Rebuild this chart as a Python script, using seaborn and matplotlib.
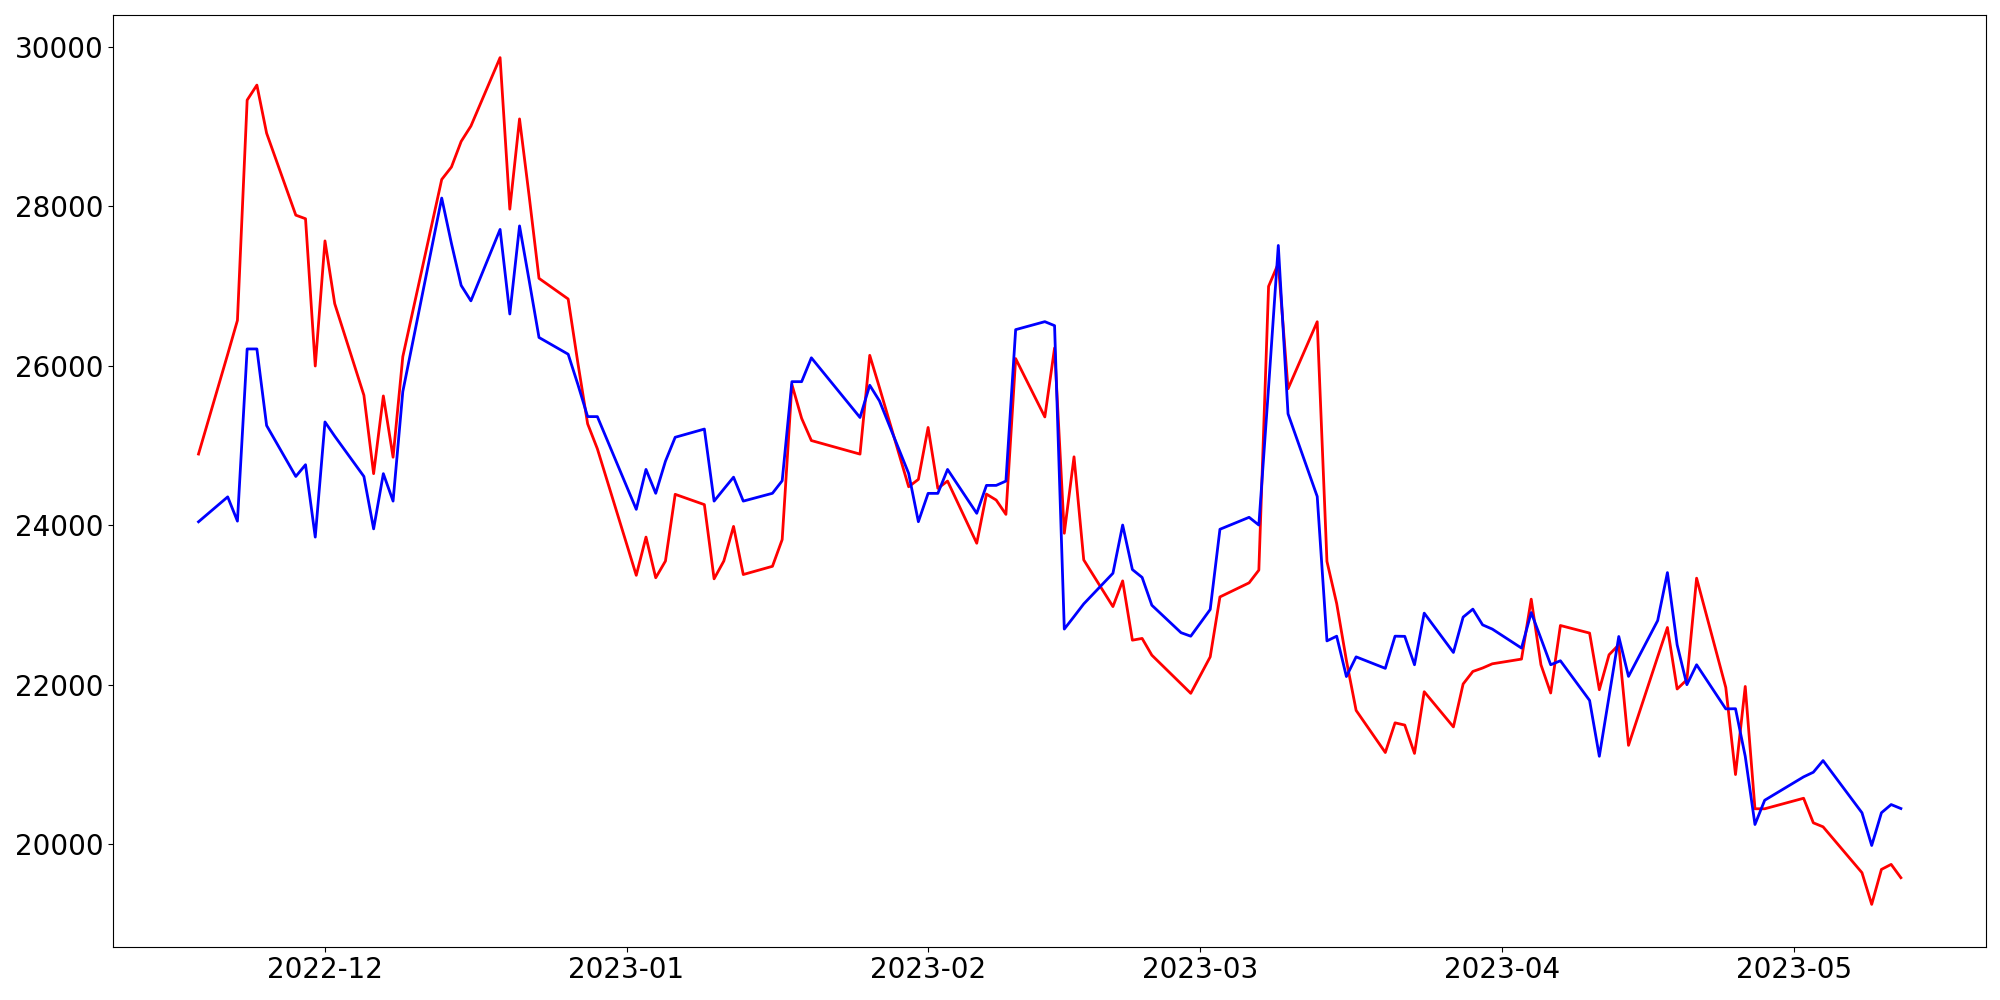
import matplotlib
matplotlib.use("Agg")
import matplotlib.pyplot as plt
import matplotlib.dates as mdates
import pandas as pd
import seaborn as sns

dates = [
    "2022-11-18", "2022-11-21", "2022-11-22", "2022-11-23", "2022-11-24", "2022-11-25",
    "2022-11-28", "2022-11-29", "2022-11-30", "2022-12-01", "2022-12-02",
    "2022-12-05", "2022-12-06", "2022-12-07", "2022-12-08", "2022-12-09",
    "2022-12-13", "2022-12-14", "2022-12-15", "2022-12-16",
    "2022-12-19", "2022-12-20", "2022-12-21", "2022-12-22", "2022-12-23",
    "2022-12-26", "2022-12-27", "2022-12-28", "2022-12-29",
    "2023-01-02", "2023-01-03", "2023-01-04", "2023-01-05", "2023-01-06",
    "2023-01-09", "2023-01-10", "2023-01-11", "2023-01-12", "2023-01-13",
    "2023-01-16", "2023-01-17", "2023-01-18", "2023-01-19", "2023-01-20",
    "2023-01-25", "2023-01-26", "2023-01-27",
    "2023-01-30", "2023-01-31", "2023-02-01", "2023-02-02", "2023-02-03",
    "2023-02-06", "2023-02-07", "2023-02-08", "2023-02-09", "2023-02-10",
    "2023-02-13", "2023-02-14", "2023-02-15", "2023-02-16", "2023-02-17",
    "2023-02-20", "2023-02-21", "2023-02-22", "2023-02-23", "2023-02-24",
    "2023-02-27", "2023-02-28", "2023-03-01", "2023-03-02", "2023-03-03",
    "2023-03-06", "2023-03-07", "2023-03-08", "2023-03-09", "2023-03-10",
    "2023-03-13", "2023-03-14", "2023-03-15", "2023-03-16", "2023-03-17",
    "2023-03-20", "2023-03-21", "2023-03-22", "2023-03-23", "2023-03-24",
    "2023-03-27", "2023-03-28", "2023-03-29", "2023-03-30", "2023-03-31",
    "2023-04-03", "2023-04-04", "2023-04-05", "2023-04-06", "2023-04-07",
    "2023-04-10", "2023-04-11", "2023-04-12", "2023-04-13", "2023-04-14",
    "2023-04-17", "2023-04-18", "2023-04-19", "2023-04-20", "2023-04-21",
    "2023-04-24", "2023-04-25", "2023-04-26", "2023-04-27", "2023-04-28",
    "2023-05-02", "2023-05-03", "2023-05-04",
    "2023-05-08", "2023-05-09", "2023-05-10", "2023-05-11", "2023-05-12",
]

red_values = [
    24893, 26144, 26568, 29329, 29517, 28914,
    27887, 27842, 25996, 27564, 26778,
    25630, 24647, 25621, 24853, 26113,
    28334, 28490, 28811, 29003,
    29861, 27962, 29093, 28115, 27095,
    26836, 26032, 25272, 24959,
    23373, 23852, 23342, 23552, 24388,
    24259, 23329, 23552, 23986, 23383,
    23486, 23821, 25764, 25340, 25062,
    24892, 26130, 25726,
    24483, 24575, 25226, 24463, 24554,
    23775, 24391, 24316, 24137, 26089,
    25358, 26222, 23900, 24858, 23566,
    22981, 23303, 22560, 22582, 22372,
    22014, 21894, 22122, 22351, 23102,
    23279, 23438, 26994, 27281, 25711,
    26551, 23548, 23020, 22306, 21680,
    21152, 21524, 21496, 21141, 21914,
    21473, 22011, 22168, 22211, 22264,
    22323, 23074, 22252, 21898, 22744,
    22649, 21939, 22377, 22502, 21242,
    22352, 22719, 21948, 22064, 23337,
    21967, 20876, 21980, 20447, 20447,
    20579, 20271, 20221,
    19646, 19249, 19687, 19750, 19583,
]

blue_values = [
    24044, 24356, 24052, 26210, 26210, 25250,
    24612, 24759, 23852, 25295, 25117,
    24612, 23955, 24647, 24303, 25675,
    28101, 27532, 27006, 26813,
    27708, 26648, 27752, 27060, 26354,
    26144, 25764, 25362, 25362,
    24200, 24700, 24401, 24803, 25103,
    25206, 24303, 24454, 24603, 24303,
    24401, 24558, 25800, 25800, 26099,
    25351, 25755, 25559,
    24650, 24045, 24400, 24400, 24700,
    24150, 24500, 24500, 24554, 26452,
    26552, 26502, 22699, 22856, 23015,
    23399, 24003, 23445, 23347, 22998,
    22654, 22610, 22777, 22945, 23950,
    24100, 24003, 25730, 27507, 25397,
    24361, 22551, 22610, 22104, 22351,
    22207, 22610, 22608, 22252, 22899,
    22406, 22849, 22949, 22752, 22699,
    22461, 22906, 22581, 22252, 22302,
    21805, 21105, 21855, 22606, 22106,
    22806, 23407, 22502, 22002, 22252,
    21699, 21701, 21105, 20250, 20554,
    20847, 20905, 21051,
    20397, 19987, 20397, 20500, 20450,
]

df = pd.DataFrame({
    "date": pd.to_datetime(dates),
    "red": red_values,
    "blue": blue_values,
})

fig, ax = plt.subplots(figsize=(20, 10), dpi=100)
sns.lineplot(data=df, x="date", y="red", color="red", linewidth=2.0, ax=ax)
sns.lineplot(data=df, x="date", y="blue", color="blue", linewidth=2.0, ax=ax)

ax.set_xlabel("")
ax.set_ylabel("")
ax.xaxis.set_major_locator(mdates.MonthLocator())
ax.xaxis.set_major_formatter(mdates.DateFormatter("%Y-%m"))
ax.tick_params(axis="both", labelsize=20)

fig.subplots_adjust(left=0.0567, right=0.993, top=0.9847, bottom=0.0533)
fig.savefig("out.png", dpi=100)
